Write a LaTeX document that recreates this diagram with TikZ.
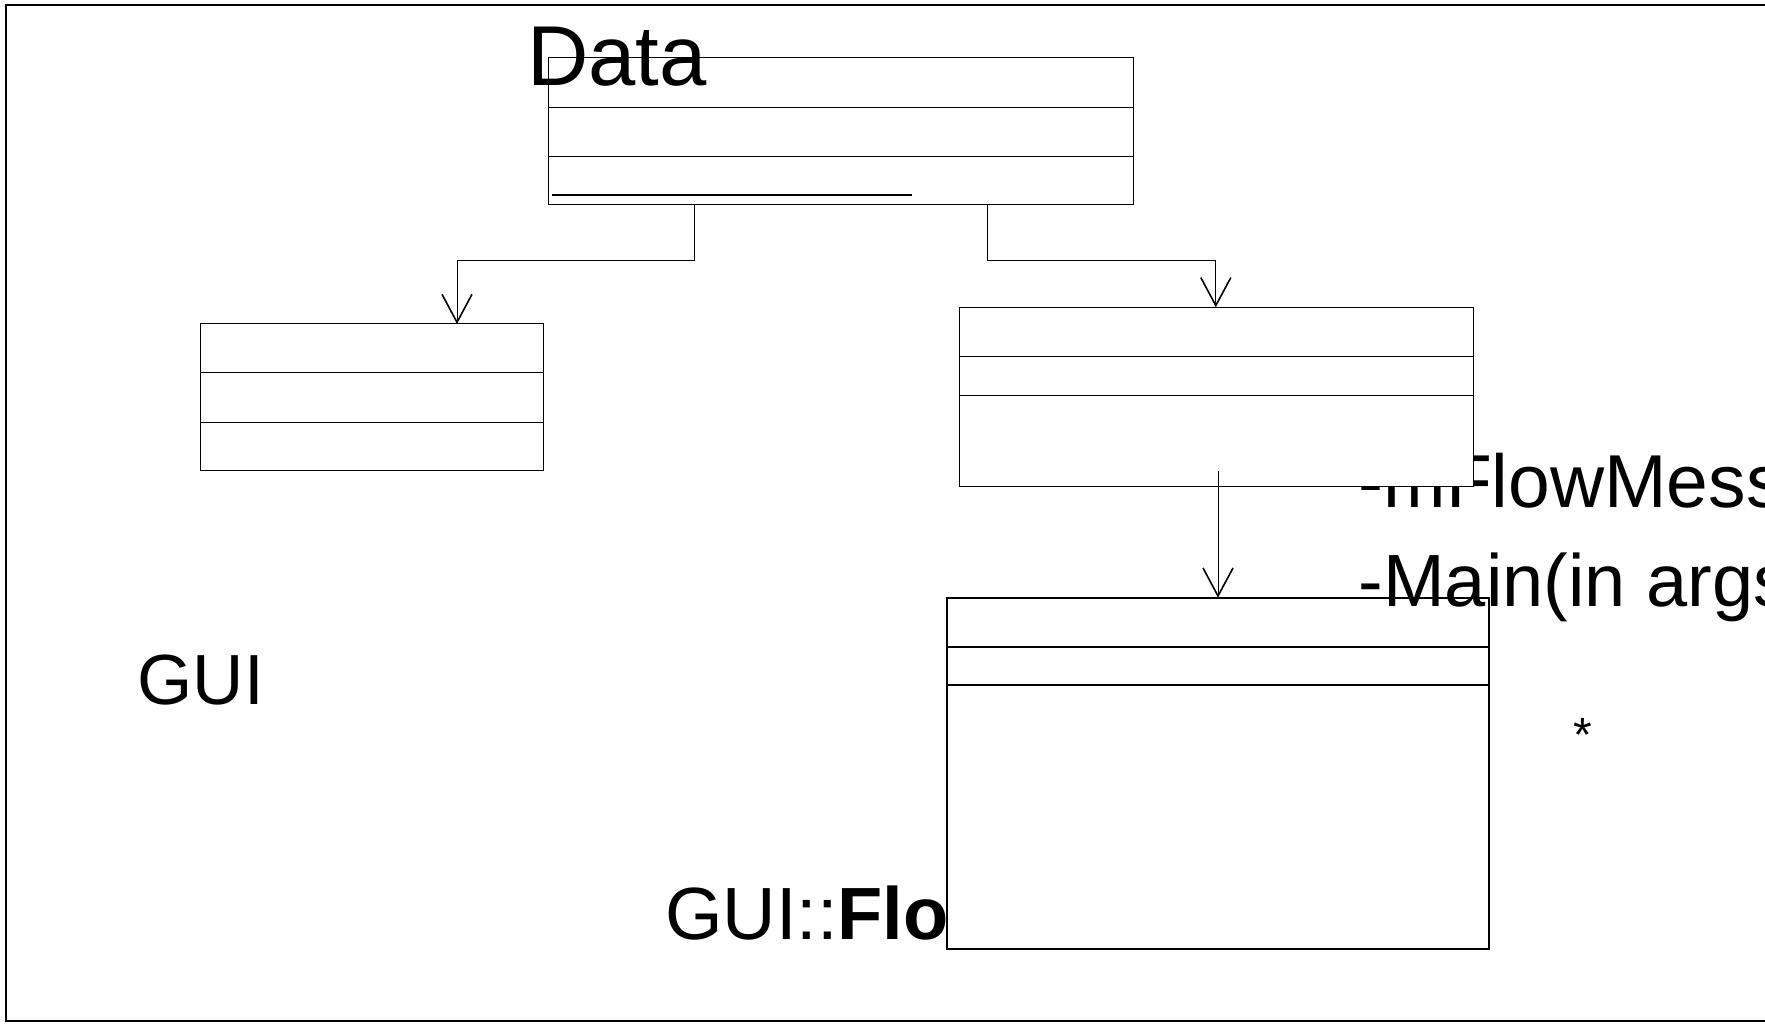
\documentclass[tikz,border=0pt]{standalone}
\usepackage{fontspec}
\setmainfont{Liberation Sans}
\usetikzlibrary{arrows.meta}

\tikzset{
  classbox/.style={draw, rectangle, fill=white, line width=1pt,
    inner sep=0pt, outer sep=0pt, anchor=north west},
  heavybox/.style={classbox, line width=1.8pt},
  divider/.style={line width=1pt},
  heavydivider/.style={line width=1.8pt},
  uml/.style={draw, line width=1pt,
    -{Straight Barb[length=28pt,width=30pt,line width=1.6pt]}},
  lbl/.style={anchor=base west, inner sep=0pt, outer sep=0pt},
}
\newcommand{\px}[1]{\fontsize{#1}{#1}\selectfont}

\begin{document}
\begin{tikzpicture}[x=1pt, y=-1pt]
  \useasboundingbox (0,0) rectangle (1765,1024);
  \clip (0,0) rectangle (1765,1024);
  \fill[white] (0,0) rectangle (1765,1024);

  % package frame
  \draw[line width=2.2pt] (1800,5) -- (6,5) -- (6,1021) -- (1800,1021);

  % Data class
  \node[classbox, minimum width=585.6pt, minimum height=147.6pt] (data) at (548,57.4) {};
  \draw[divider] ([yshift=-49.9pt]data.north west) -- ([yshift=-49.9pt]data.north east);
  \draw[divider] ([yshift=-99.1pt]data.north west) -- ([yshift=-99.1pt]data.north east);
  \draw[line width=2pt] ([xshift=3.6pt,yshift=10pt]data.south west) -- ([xshift=363.8pt,yshift=10pt]data.south west);
  \node[lbl, font=\px{85}] (dataname) at (527,86) {Data};

  % left class
  \node[classbox, minimum width=343.3pt, minimum height=146.5pt] (left) at (200.4,324) {};
  \draw[divider] ([yshift=-48.6pt]left.north west) -- ([yshift=-48.6pt]left.north east);
  \draw[divider] ([yshift=-98pt]left.north west) -- ([yshift=-98pt]left.north east);

  % attribute text partly hidden by the middle class
  \node[lbl, font=\px{75}] (attr) at (1358.6,507) {-mFlowMess};

  % middle class
  \node[classbox, minimum width=514.5pt, minimum height=179pt] (mid) at (959,307.3) {};
  \draw[divider] ([yshift=-49.5pt]mid.north west) -- ([yshift=-49.5pt]mid.north east);
  \draw[divider] ([yshift=-87.7pt]mid.north west) -- ([yshift=-87.7pt]mid.north east);

  % connectors from Data
  \draw[uml] ([xshift=146.6pt]data.south west) -- ++(0,56) -| ([xshift=256.6pt]left.north west);
  \draw[uml] ([xshift=439pt]data.south west) -- ++(0,56) -| ([xshift=256.8pt]mid.north west);

  % qualified name, covered by the lower class
  \node[lbl, font=\px{74}] (flowname) at (665,939) {GUI::\textbf{Flow}};

  % lower class
  \node[heavybox, minimum width=542.6pt, minimum height=351.3pt] (flow) at (946.7,597.7) {};
  \draw[heavydivider] ([yshift=-49.3pt]flow.north west) -- ([yshift=-49.3pt]flow.north east);
  \draw[heavydivider] ([yshift=-87.3pt]flow.north west) -- ([yshift=-87.3pt]flow.north east);

  % connector into the lower class
  \coordinate (c3) at (1218,470.5);
  \draw[uml] (c3) -- (c3 |- flow.north);

  % operation text
  \node[lbl, font=\px{74}] (oper) at (1358.7,606) {-Main(in args};

  % package name and multiplicity
  \node[lbl, font=\px{71}] (pkg) at (137.6,704) {GUI};
  \node[lbl, font=\px{48}] (mult) at (1573,751) {*};
\end{tikzpicture}
\end{document}
